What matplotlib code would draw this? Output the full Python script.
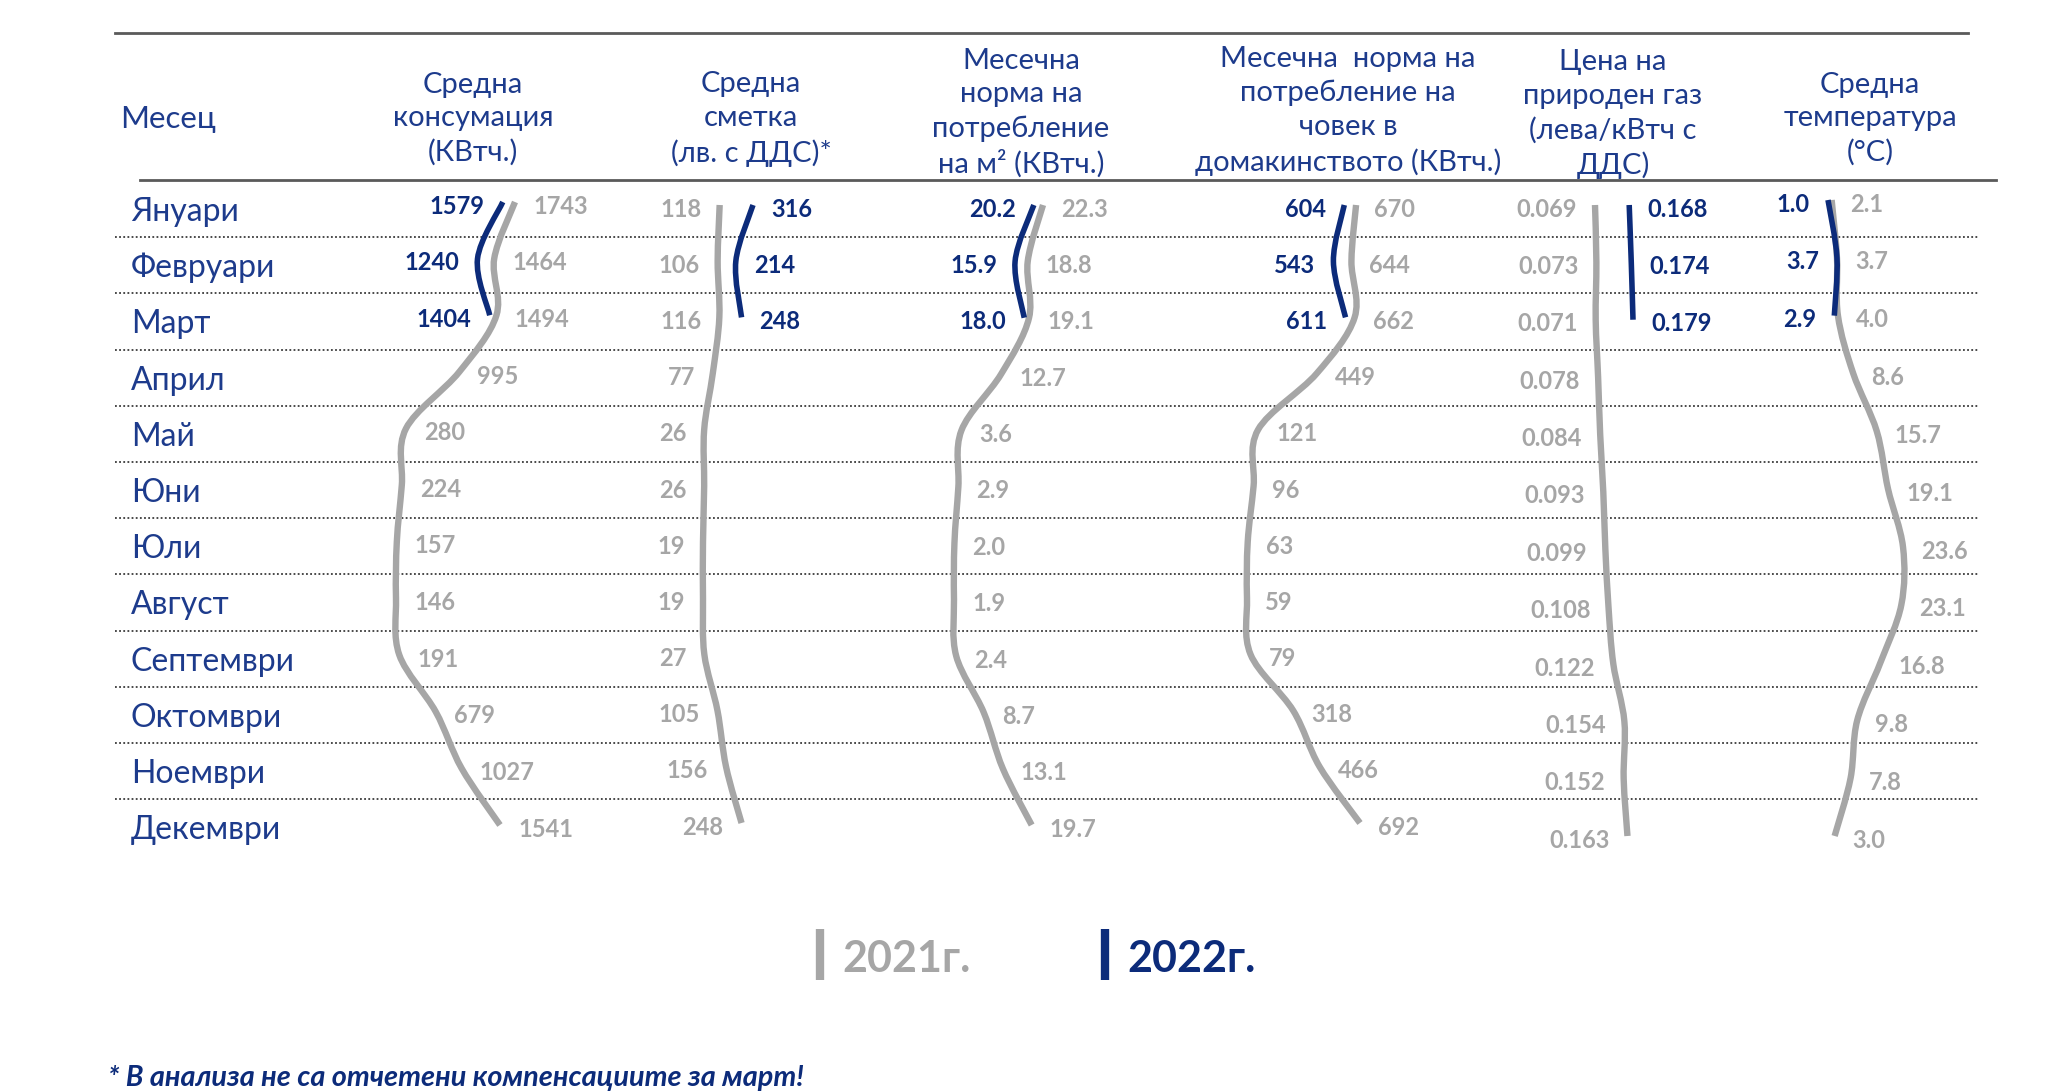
import numpy as np
import matplotlib
matplotlib.use('Agg')
import matplotlib.pyplot as plt
from matplotlib.path import Path
from matplotlib.patches import PathPatch

plt.rcParams['font.family'] = ['Lato', 'DejaVu Sans']

# данни
months = ['Януари', 'Февруари', 'Март', 'Април', 'Май', 'Юни', 'Юли',
          'Август', 'Септември', 'Октомври', 'Ноември', 'Декември']
cons_2021 = [1743, 1464, 1494, 995, 280, 224, 157, 146, 191, 679, 1027, 1541]
cons_2022 = [1579, 1240, 1404]
bill_2021 = [118, 106, 116, 77, 26, 26, 19, 19, 27, 105, 156, 248]
bill_2022 = [316, 214, 248]
norm_m2_2021 = [22.3, 18.8, 19.1, 12.7, 3.6, 2.9, 2.0, 1.9, 2.4, 8.7, 13.1, 19.7]
norm_m2_2022 = [20.2, 15.9, 18.0]
norm_person_2021 = [670, 644, 662, 449, 121, 96, 63, 59, 79, 318, 466, 692]
norm_person_2022 = [604, 543, 611]
gas_2021 = [0.069, 0.073, 0.071, 0.078, 0.084, 0.093, 0.099, 0.108, 0.122, 0.154, 0.152, 0.163]
gas_2022 = [0.168, 0.174, 0.179]
temp_2021 = [2.1, 3.7, 4.0, 8.6, 15.7, 19.1, 23.6, 23.1, 16.8, 9.8, 7.8, 3.0]
temp_2022 = [1.0, 3.7, 2.9]

headers = ['Средна\nконсумация\n(КВтч.)',
           'Средна\nсметка\n(лв. с ДДС)*',
           'Месечна\nнорма на\nпотребление\nна м² (КВтч.)',
           'Месечна  норма на\nпотребление на\nчовек в\nдомакинството (КВтч.)',
           'Цена на\nприроден газ\n(лева/кВтч с\nДДС)',
           'Средна\nтемпература\n(°C)']
legend_labels = ['2021г.', '2022г.']
footnote = '* В анализа не са отчетени компенсациите за март!'

GREY = '#a6a6a6'
BLUE = '#0c2b7a'
HEAD = '#1d3b8c'
W, H = 2048, 1092

fig = plt.figure(figsize=(W / 100, H / 100), dpi=100)
bg = fig.add_axes([0, 0, 1, 1])
bg.set_xlim(0, W)
bg.set_ylim(H, 0)
bg.axis('off')

# таблица: линии и заглавия
bg.plot([115, 1968], [33, 33], color='#5a5a5a', lw=2)
bg.plot([140, 1996], [180, 180], color='#5a5a5a', lw=2)
row0, row_h = 209, 56.2
for i in range(len(months) - 1):
    y = row0 + (i + 0.5) * row_h
    bg.plot([115, 1979], [y, y], color='#3a3a3a', lw=1.3, ls=(0, (1, 1.3)))
for i, m in enumerate(months):
    bg.text(131, row0 + 3 + i * row_h, m, color=HEAD, fontsize=23, va='center', ha='left')

bg.text(120, 119, 'Месец', color=HEAD, fontsize=22.5, va='center', ha='left')
head_pos = [(473, 119), (751, 119), (1021, 113), (1348, 111), (1613, 114), (1870, 119)]
for (hx, hy), t in zip(head_pos, headers):
    bg.text(hx, hy, t, color=HEAD, fontsize=21, va='center', ha='center',
            multialignment='center', linespacing=1.36)


def smooth_path(xs, ys):
    pts = np.column_stack([xs, ys]).astype(float)
    n = len(pts)
    verts = [pts[0]]
    codes = [Path.MOVETO]
    for i in range(n - 1):
        p0 = pts[max(i - 1, 0)]
        p1 = pts[i]
        p2 = pts[i + 1]
        p3 = pts[min(i + 2, n - 1)]
        verts += [p1 + (p2 - p0) / 6, p2 - (p3 - p1) / 6, p2]
        codes += [Path.CURVE4] * 3
    return Path(verts, codes)


# колони: (2021, 2022, формат, px за min, px за max, y Януари, y Декември, страна сиво, страна синьо)
columns = [
    (cons_2021, cons_2022, '{:.0f}', 396, 515, 202, 825, 1, -1),
    (bill_2021, bill_2022, '{:.0f}', 703, 753, 205, 823, -1, 1),
    (norm_m2_2021, norm_m2_2022, '{:.1f}', 954, 1043, 205, 825, 1, -1),
    (norm_person_2021, norm_person_2022, '{:.0f}', 1247, 1360, 205, 823, 1, -1),
    (gas_2021, gas_2022, '{:.3f}', 1595, 1633, 205, 836, -1, 1),
    (temp_2021, temp_2022, '{:.1f}', 1828, 1903, 200, 836, 1, -1),
]

for s21, s22, fmt, x0, x1, y0, y1, side21, side22 in columns:
    ax = fig.add_axes([x0 / W, 1 - y1 / H, (x1 - x0) / W, (y1 - y0) / H])
    ax.set_xlim(min(s21 + s22), max(s21 + s22))
    ax.set_ylim(len(months) - 1, 0)
    ax.axis('off')
    for vals, col, lw, side in [(s21, GREY, 4.6, side21), (s22, BLUE, 4.0, side22)]:
        idx = np.arange(len(vals))
        ax.add_patch(PathPatch(smooth_path(vals, idx), fill=False, edgecolor=col,
                               lw=lw, capstyle='butt', clip_on=False))
        for v, i in zip(vals, idx):
            ax.annotate(fmt.format(v), (v, i), xytext=(side * 13, -3),
                        textcoords='offset points', ha='left' if side > 0 else 'right',
                        va='center', fontsize=17, color=col, fontweight='bold',
                        annotation_clip=False)

# легенда
for (lx, col), lab in zip([(820, GREY), (1105, BLUE)], legend_labels):
    bg.plot([lx, lx], [929, 980], color=col, lw=6, solid_capstyle='butt')
    bg.text(lx + 22, 959, lab, color=col, fontsize=31, fontweight='bold',
            va='center', ha='left')

bg.text(108, 1078, footnote, color=BLUE, fontsize=20.8, fontweight='bold',
        fontstyle='italic', va='center', ha='left')

fig.savefig('out.png', dpi=100)
